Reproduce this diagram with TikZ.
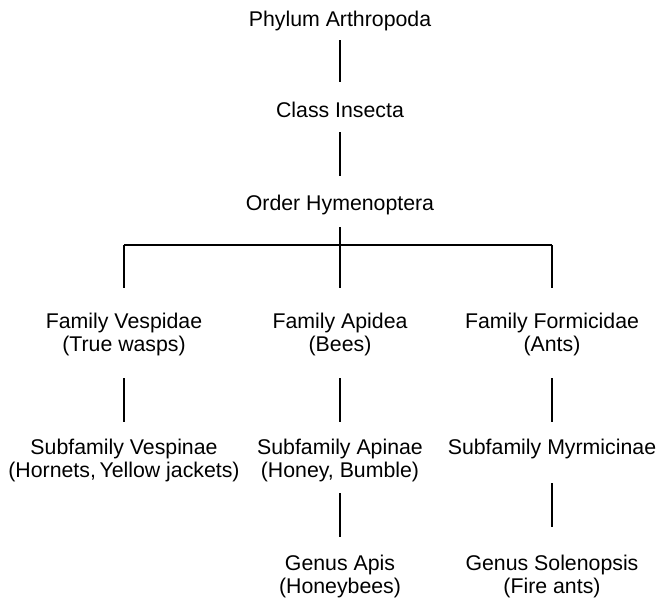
\documentclass[tikz,border=0pt]{standalone}
\usepackage{fontspec}
\setmainfont{Liberation Sans}
\usepackage{tikz}
\usetikzlibrary{positioning}

\tikzset{
    taxon/.style={inner sep=0pt, anchor=base, align=center,
        font=\fontsize{21.3}{23}\selectfont},
    link/.style={line width=1.2pt, line cap=butt}
}

\begin{document}
\begin{tikzpicture}[x=1pt, y=-1pt]
    \useasboundingbox (0,0) rectangle (663,605);

    % Upper ranks
    \node[taxon] (phylum) at (340,26) {Phylum Arthropoda};
    \node[taxon] (class) at (340,117) {Class Insecta};
    \node[taxon] (order) at (340,210) {Order Hymenoptera};

    % Families (base = last line)
    \node[taxon] (vespidae) at (124,351) {Family Vespidae\\(True wasps)};
    \node[taxon] (apidea) at (340,351) {Family Apidea\\(Bees)};
    \node[taxon] (formicidae) at (552,351) {Family Formicidae\\(Ants)};

    % Subfamilies
    \node[taxon] (vespinae) at (124,477) {Subfamily Vespinae\\(Hornets,\,Yellow jackets)};
    \node[taxon] (apinae) at (340,477) {Subfamily Apinae\\(Honey, Bumble)};
    \node[taxon] (myrmicinae) at (552,454) {Subfamily Myrmicinae};

    % Genera
    \node[taxon] (apis) at (340,593) {Genus Apis\\(Honeybees)};
    \node[taxon] (solenopsis) at (552,593) {Genus Solenopsis\\(Fire ants)};

    % Branch bar under the order
    \coordinate (bar) at (340,245);

    % Connectors
    \draw[link, shorten <=9.5pt, shorten >=19.5pt] (phylum.south) -- (class.north);
    \draw[link, shorten <=14.8pt, shorten >=18.5pt] (class.south) -- (order.north);
    \draw[link, shorten <=12.5pt] (order.south) -- (bar);
    \draw[link] (bar -| vespidae) -- (bar -| formicidae);
    \foreach \fam in {vespidae,apidea,formicidae}
    {
        \draw[link, shorten >=24.5pt] (bar -| \fam) -- (\fam.north);
    }
    \draw[link, shorten <=22.5pt, shorten >=16.5pt] (vespidae.south) -- (vespinae.north);
    \draw[link, shorten <=22.5pt, shorten >=16.5pt] (apidea.south) -- (apinae.north);
    \draw[link, shorten <=22.5pt, shorten >=16.5pt] (formicidae.south) -- (myrmicinae.north);
    \draw[link, shorten <=11.5pt, shorten >=17.5pt] (apinae.south) -- (apis.north);
    \draw[link, shorten <=24.5pt, shorten >=27.5pt] (myrmicinae.south) -- (solenopsis.north);
\end{tikzpicture}
\end{document}
